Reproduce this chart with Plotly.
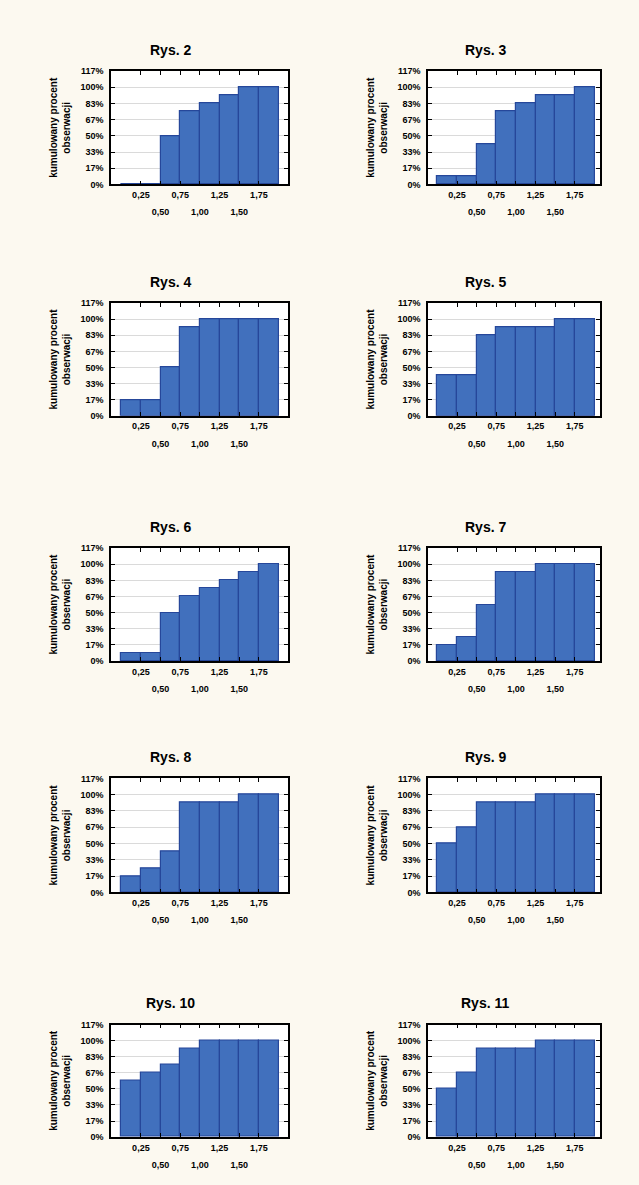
import plotly.graph_objects as go

# ---------------- data ----------------
bin_centers = [0.125, 0.375, 0.625, 0.875, 1.125, 1.375, 1.625, 1.875]
bin_width = 0.25

titles = ["Rys. 2", "Rys. 3", "Rys. 4", "Rys. 5", "Rys. 6",
          "Rys. 7", "Rys. 8", "Rys. 9", "Rys. 10", "Rys. 11"]

rys2 = [0.0, 0.0, 50.0, 75.0, 83.3, 91.7, 100.0, 100.0]
rys3 = [8.3, 8.3, 41.7, 75.0, 83.3, 91.7, 91.7, 100.0]
rys4 = [16.7, 16.7, 50.0, 91.7, 100.0, 100.0, 100.0, 100.0]
rys5 = [41.7, 41.7, 83.3, 91.7, 91.7, 91.7, 100.0, 100.0]
rys6 = [8.3, 8.3, 50.0, 66.7, 75.0, 83.3, 91.7, 100.0]
rys7 = [16.7, 25.0, 58.3, 91.7, 91.7, 100.0, 100.0, 100.0]
rys8 = [16.7, 25.0, 41.7, 91.7, 91.7, 91.7, 100.0, 100.0]
rys9 = [50.0, 66.7, 91.7, 91.7, 91.7, 100.0, 100.0, 100.0]
rys10 = [58.3, 66.7, 75.0, 91.7, 100.0, 100.0, 100.0, 100.0]
rys11 = [50.0, 66.7, 91.7, 91.7, 91.7, 100.0, 100.0, 100.0]
series = [rys2, rys3, rys4, rys5, rys6, rys7, rys8, rys9, rys10, rys11]

x_tickvals = [0.25, 0.5, 0.75, 1.0, 1.25, 1.5, 1.75]
x_ticktext_upper = ["0,25", "", "0,75", "", "1,25", "", "1,75"]
x_tickvals_lower = [0.5, 1.0, 1.5]
x_ticktext_lower = ["0,50", "1,00", "1,50"]
y_tickvals = [0, 16.667, 33.333, 50, 66.667, 83.333, 100, 116.667]
y_ticktext = ["0%", "17%", "33%", "50%", "67%", "83%", "100%", "117%"]
y_title = "kumulowany procent<br>obserwacji"

# ---------------- layout geometry (pixels) ----------------
W, H = 639, 1185
col_x = [(111, 288), (428, 600)]
col_xrange = [(-0.13, 2.12), (-0.12, 2.07)]
col_title_x = [170, 485]
col_ytitle_x = [60, 377]
rows = [(66.7, 181), (300.7, 414.3), (547.7, 661.7), (780, 895), (1028.3, 1141.7)]

BAR = "#4170BD"
BAR_LINE = "#26479A"
BG = "#FCF9F0"
FONT = "Arial, Liberation Sans, sans-serif"
TICKFONT = dict(family=FONT, size=9, color="black", weight="bold")

fig = go.Figure()
annotations = []
layout = {}
n = len(titles)

for i, (ttl, vals) in enumerate(zip(titles, series)):
    r, c = divmod(i, 2)
    k = "" if i == 0 else str(i + 1)
    k2 = str(i + 1 + n)
    x0, x1 = col_x[c]
    top, bot = rows[r]
    fig.add_trace(go.Bar(
        x=bin_centers, y=vals, width=[bin_width] * len(bin_centers),
        marker=dict(color=BAR, line=dict(color=BAR_LINE, width=1.2)),
        xaxis="x" + k, yaxis="y" + k, showlegend=False, hoverinfo="x+y",
    ))
    # empty trace so the second (lower) row of x tick labels gets drawn
    fig.add_trace(go.Scatter(
        x=[], y=[], xaxis="x" + k2, yaxis="y" + k,
        showlegend=False, hoverinfo="skip",
    ))
    layout["xaxis" + k] = dict(
        domain=[x0 / W, x1 / W], anchor="y" + k, range=list(col_xrange[c]),
        tickvals=x_tickvals, ticktext=x_ticktext_upper, ticks="inside", ticklen=4,
        tickcolor="black", showline=True, linecolor="black", linewidth=1.5,
        mirror="ticks", showgrid=False, zeroline=False, fixedrange=True,
        tickfont=TICKFONT, ticklabelstandoff=1,
    )
    layout["xaxis" + k2] = dict(
        overlaying="x" + k, anchor="y" + k, side="bottom",
        range=list(col_xrange[c]), tickvals=x_tickvals_lower,
        ticktext=x_ticktext_lower, ticks="", showline=False, showgrid=False,
        zeroline=False, fixedrange=True, tickfont=TICKFONT,
        ticklabelstandoff=21,
    )
    layout["yaxis" + k] = dict(
        domain=[1 - bot / H, 1 - top / H], anchor="x" + k, range=[0, 116.667],
        tickvals=y_tickvals, ticktext=y_ticktext, ticks="inside", ticklen=4,
        tickcolor="black", showline=True, linecolor="black", linewidth=1.5,
        mirror="ticks", showgrid=True, gridcolor="#DADADA", gridwidth=1,
        zeroline=False, fixedrange=True, tickfont=TICKFONT,
        ticklabelstandoff=4,
    )
    annotations.append(dict(
        text="<b>" + ttl + "</b>", xref="paper", yref="paper",
        x=col_title_x[c] / W, y=1 - (top - 21.5) / H, showarrow=False,
        xanchor="center", yanchor="middle",
        font=dict(family=FONT, size=14, color="black"),
    ))
    annotations.append(dict(
        text="<b>" + y_title + "</b>", xref="paper", yref="paper",
        x=col_ytitle_x[c] / W, y=1 - ((top + bot) / 2) / H, showarrow=False,
        textangle=-90, xanchor="center", yanchor="middle",
        font=dict(family=FONT, size=10, color="black"),
    ))

fig.update_layout(
    width=W, height=H, margin=dict(l=0, r=0, t=0, b=0),
    paper_bgcolor=BG, plot_bgcolor="white", bargap=0,
    annotations=annotations, **layout,
)

fig.write_html(
    "out.html",
    config={"displayModeBar": False, "responsive": False},
    post_script=(
        "document.body.style.margin='0';"
        "document.body.style.background='" + BG + "';"
        "document.documentElement.style.overflow='hidden';"
    ),
)
